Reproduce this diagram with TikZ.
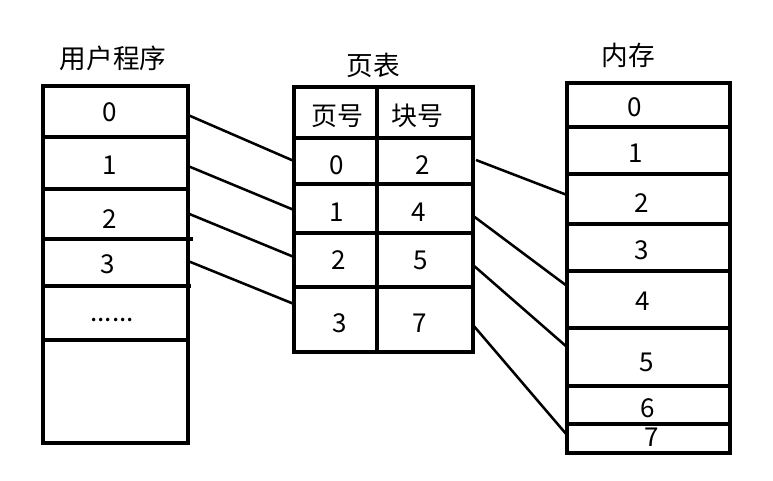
\documentclass[tikz,border=0pt]{standalone}
\usepackage{fontspec}
\setmainfont{Noto Sans CJK SC}
\begin{document}
\begin{tikzpicture}[x=0.75pt,y=-0.75pt,
  box/.style={line width=2.3pt},
  link/.style={line width=1.9pt},
  lbl/.style={inner sep=0pt,font=\fontsize{19.5}{21}\selectfont},
  ttl/.style={inner sep=0pt,font=\fontsize{20}{22}\selectfont}]
\useasboundingbox (0,0) rectangle (773,480);
% user program
\node[ttl] (tp) at (113,58) {用户程序};
\draw[box] (43,86) rectangle (188,443);
\draw[box] (43,137) -- (188,137);
\draw[box] (43,189) -- (188,189);
\draw[box] (43,239) -- (193,239);
\draw[box] (43,286) -- (191,286);
\draw[box] (43,340) -- (188,340);
\node[lbl] (p0) at (110,112) {0};
\node[lbl] (p1) at (110,165) {1};
\node[lbl] (p2) at (110,219) {2};
\node[lbl] (p3) at (108,264) {3};
\node[lbl] (pd) at (112,320) {......};
% page table
\node[ttl] (tt) at (373,65) {页表};
\draw[box] (294,87) rectangle (473,352);
\draw[box] (377,87) -- (377,354);
\draw[box] (294,138) -- (473,138);
\draw[box] (294,184) -- (473,184);
\draw[box] (294,233) -- (473,233);
\draw[box] (293,287) -- (473,287);
\node[lbl] (h1) at (337,116) {页号};
\node[lbl] (h2) at (417,116) {块号};
\node[lbl] (a0) at (337,165) {0};
\node[lbl] (a1) at (337,212) {1};
\node[lbl] (a2) at (339,260) {2};
\node[lbl] (a3) at (340,323) {3};
\node[lbl] (b0) at (423,165) {2};
\node[lbl] (b1) at (419,212) {4};
\node[lbl] (b2) at (421,260) {5};
\node[lbl] (b3) at (420,323) {7};
% memory
\node[ttl] (tm) at (628,55) {内存};
\draw[box] (567,83) rectangle (730,453);
\foreach \yy in {127,174,224,271,328,386,424}
  \draw[box] (567,\yy) -- (730,\yy);
\node[lbl] (m0) at (635,107) {0};
\node[lbl] (m1) at (636,153) {1};
\node[lbl] (m2) at (642,203) {2};
\node[lbl] (m3) at (642,250) {3};
\node[lbl] (m4) at (643,301) {4};
\node[lbl] (m5) at (647,362) {5};
\node[lbl] (m6) at (648,408) {6};
\node[lbl] (m7) at (652,437) {7};
% connector endpoints
\coordinate (ls0) at (188,115);
\coordinate (ls1) at (188,166);
\coordinate (ls2) at (187,213);
\coordinate (ls3) at (188,261);
\coordinate (le0) at (294,161);
\coordinate (le1) at (294,210);
\coordinate (le2) at (294,257);
\coordinate (le3) at (294,304);
\coordinate (rs0) at (476,160);
\coordinate (rs1) at (472,215);
\coordinate (rs2) at (473,265);
\coordinate (rs3) at (473,325);
\coordinate (re0) at (567,195);
\coordinate (re1) at (567,286);
\coordinate (re2) at (567,347);
\coordinate (re3) at (567,435);
\draw[link] (ls0) -- (le0);
\draw[link] (ls1) -- (le1);
\draw[link] (ls2) -- (le2);
\draw[link] (ls3) -- (le3);
\draw[link] (rs0) -- (re0);
\draw[link] (rs1) -- (re1);
\draw[link] (rs2) -- (re2);
\draw[link] (rs3) -- (re3);
\end{tikzpicture}
\end{document}
